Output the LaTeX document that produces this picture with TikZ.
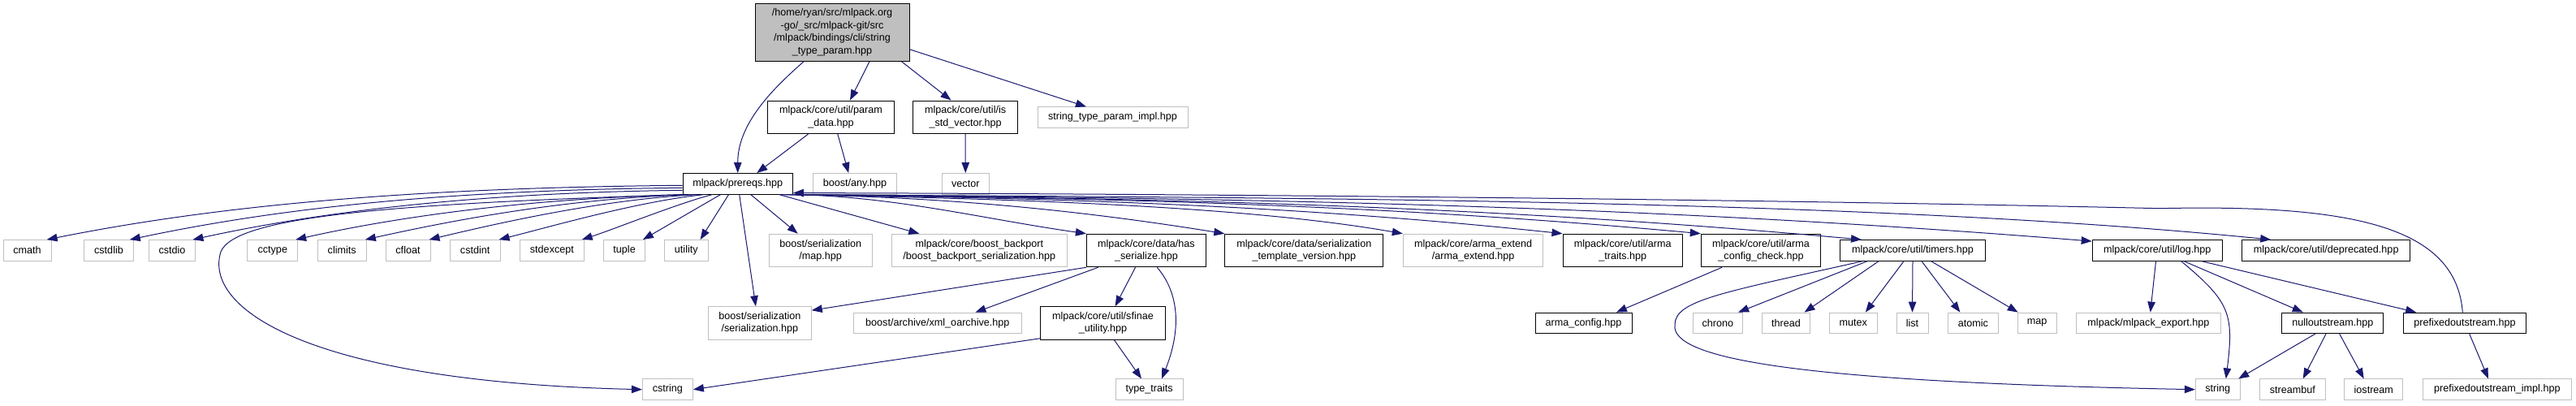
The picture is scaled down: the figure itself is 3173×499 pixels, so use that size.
\documentclass[tikz,border=0pt]{standalone}
\usepackage{fontspec}
\setmainfont{Liberation Sans}
\usetikzlibrary{arrows.meta}
\definecolor{edgeblue}{RGB}{25,25,112}
\definecolor{grayb}{RGB}{191,191,191}
\begin{document}
\begin{tikzpicture}[x=1pt,y=1pt,
  box/.style={rectangle, inner sep=0pt, align=center, font=\fontsize{12.6}{15.4}\selectfont, line width=1pt},
  doc/.style={box, draw=black},
  ext/.style={box, draw=grayb},
  one/.style={minimum height=25.6pt},
  two/.style={minimum height=40.6pt},
  dep/.style={draw=edgeblue, line width=1pt, -{Triangle[length=13pt,width=9.5pt]}}
]
\useasboundingbox (0,0) rectangle (3173,-499);
% row 0
\node[doc, fill=grayb, minimum width=190pt, minimum height=71pt] (root) at (1025,-39.8) {/home/ryan/src/mlpack.org\\-go/\_src/mlpack-git/src\\/mlpack/bindings/cli/string\\\_type\_param.hpp};
% row 1
\node[doc, two, minimum width=155.7pt] (pdata) at (1023.5,-144.3) {mlpack/core/util/param\\\_data.hpp};
\node[doc, two, minimum width=128.6pt] (isvec) at (1189.1,-144.3) {mlpack/core/util/is\\\_std\_vector.hpp};
\node[ext, one, minimum width=185pt] (stpi) at (1370.5,-144.7) {string\_type\_param\_impl.hpp};
% row 2
\node[doc, one, minimum width=135.3pt] (prereqs) at (908.7,-226.3) {mlpack/prereqs.hpp};
\node[ext, one, minimum width=103pt] (anyhpp) at (1053,-226.3) {boost/any.hpp};
\node[ext, one, minimum width=58.5pt] (vector) at (1189.3,-226.3) {vector};
% row 3
\node[ext, one, minimum width=59pt] (cmath) at (33.6,-308.4) {cmath};
\node[ext, one, minimum width=60.6pt] (cstdlib) at (134,-308.4) {cstdlib};
\node[ext, one, minimum width=57.8pt] (cstdio) at (212,-308.4) {cstdio};
\node[ext, one, minimum width=61.7pt] (cctype) at (335.8,-308.4) {cctype};
\node[ext, one, minimum width=60.3pt] (climits) at (421.2,-308.4) {climits};
\node[ext, one, minimum width=55pt] (cfloat) at (502.5,-308.4) {cfloat};
\node[ext, one, minimum width=61.7pt] (cstdint) at (585.2,-308.4) {cstdint};
\node[ext, one, minimum width=78.7pt] (stdexcept) at (679.9,-308.4) {stdexcept};
\node[ext, one, minimum width=50.6pt] (tuple) at (769.1,-308.4) {tuple};
\node[ext, one, minimum width=53.6pt] (utility) at (845.3,-308.4) {utility};
\node[ext, two, minimum width=127.1pt] (smap) at (1010.7,-308.5) {boost/serialization\\/map.hpp};
\node[ext, two, minimum width=216pt] (backport) at (1206.3,-308.5) {mlpack/core/boost\_backport\\/boost\_backport\_serialization.hpp};
\node[doc, two, minimum width=147pt] (hasser) at (1411.9,-308.5) {mlpack/core/data/has\\\_serialize.hpp};
\node[doc, two, minimum width=195pt] (stv) at (1606.3,-308.5) {mlpack/core/data/serialization\\\_template\_version.hpp};
\node[ext, two, minimum width=172.6pt] (armaext) at (1814.6,-308.5) {mlpack/core/arma\_extend\\/arma\_extend.hpp};
\node[doc, two, minimum width=147.4pt] (armatr) at (1998.7,-308.5) {mlpack/core/util/arma\\\_traits.hpp};
\node[doc, two, minimum width=147.4pt] (armacc) at (2169,-308.5) {mlpack/core/util/arma\\\_config\_check.hpp};
\node[doc, one, minimum width=179pt] (timers) at (2356,-308.4) {mlpack/core/util/timers.hpp};
\node[doc, one, minimum width=160pt] (logh) at (2657.2,-308.4) {mlpack/core/util/log.hpp};
\node[doc, one, minimum width=207pt] (depr) at (2865.2,-308.4) {mlpack/core/util/deprecated.hpp};
% row 4
\node[ext, two, minimum width=126.7pt] (ser) at (935.9,-398) {boost/serialization\\/serialization.hpp};
\node[ext, one, minimum width=206.4pt] (xmlo) at (1154.8,-397.9) {boost/archive/xml\_oarchive.hpp};
\node[doc, two, minimum width=154.2pt] (sfinae) at (1358.5,-398) {mlpack/core/util/sfinae\\\_utility.hpp};
\node[doc, one, minimum width=119pt] (armacfg) at (1950.5,-397.9) {arma\_config.hpp};
\node[ext, one, minimum width=61.6pt] (chrono) at (2115.8,-397.9) {chrono};
\node[ext, one, minimum width=59.3pt] (thread) at (2200,-397.9) {thread};
\node[ext, one, minimum width=59.5pt] (mutex) at (2282.8,-397.9) {mutex};
\node[ext, one, minimum width=39pt] (list) at (2355.5,-397.9) {list};
\node[ext, one, minimum width=61.6pt] (atomic) at (2430.4,-397.9) {atomic};
\node[ext, one, minimum width=47.7pt] (mapn) at (2509.2,-397.9) {map};
\node[ext, one, minimum width=178.7pt] (mlexp) at (2646.4,-397.9) {mlpack/mlpack\_export.hpp};
\node[doc, one, minimum width=125.3pt] (nullos) at (2873.3,-397.9) {nulloutstream.hpp};
\node[doc, one, minimum width=150.6pt] (prefos) at (3036,-397.9) {prefixedoutstream.hpp};
% row 5
\node[ext, one, minimum width=62pt] (cstring) at (822.4,-479.7) {cstring};
\node[ext, one, minimum width=83.4pt] (typetr) at (1415.7,-479.7) {type\_traits};
\node[ext, one, minimum width=55pt] (string) at (2731.8,-479.7) {string};
\node[ext, one, minimum width=80.3pt] (streambuf) at (2823.9,-479.7) {streambuf};
\node[ext, one, minimum width=72.3pt] (iostream) at (2923.8,-479.7) {iostream};
\node[ext, one, minimum width=183pt] (prefimpl) at (3075.8,-479.7) {prefixedoutstream\_impl.hpp};

% root edges
\draw[dep] ([xshift=-35pt]root.south) .. controls +(-40,-35) and +(0,60) .. (prereqs.north);
\draw[dep] ([xshift=46pt]root.south) -- ([xshift=23.5pt]pdata.north);
\draw[dep] ([xshift=-10pt]root.south east) -- ([xshift=-17.6pt]isvec.north);
\draw[dep] ([yshift=15pt]root.south east) -- ([xshift=-32.5pt]stpi.north);
\draw[dep] ([xshift=-28pt]pdata.south) -- ([xshift=23.6pt]prereqs.north);
\draw[dep] ([xshift=8.3pt]pdata.south) -- ([xshift=-7.8pt]anyhpp.north);
\draw[dep] (isvec) -- (vector);
% prereqs left fan
\draw[dep] ([yshift=-2pt]prereqs.west) .. controls +(-350,-3) and +(200,40) .. ([xshift=-6pt]cmath.north east);
\draw[dep] ([yshift=-5pt]prereqs.west) .. controls +(-300,-3) and +(180,38) .. ([xshift=-5pt]cstdlib.north east);
\draw[dep] ([yshift=-8pt]prereqs.west) .. controls +(-250,-3) and +(160,35) .. ([xshift=-4pt]cstdio.north east);
\draw[dep] ([xshift=4pt]prereqs.south west) .. controls +(-200,-5) and +(120,27) .. ([xshift=-3pt]cctype.north east);
\draw[dep] ([xshift=11pt]prereqs.south west) .. controls +(-160,-5) and +(100,22) .. ([xshift=-2pt]climits.north east);
\draw[dep] ([xshift=19pt]prereqs.south west) .. controls +(-120,-6) and +(80,19) .. ([xshift=-2pt]cfloat.north east);
\draw[dep] ([xshift=27pt]prereqs.south west) .. controls +(-80,-8) and +(60,15) .. ([xshift=-2pt]cstdint.north east);
\draw[dep] ([xshift=37pt]prereqs.south west) .. controls +(-40,-10) and +(40,13) .. ([xshift=-3pt]stdexcept.north east);
\draw[dep] ([xshift=47pt]prereqs.south west) -- ([xshift=-3pt]tuple.north east);
\draw[dep] ([xshift=57pt]prereqs.south west) -- ([xshift=-10pt]utility.north east);
\draw[dep] ([xshift=2pt]prereqs.south) -- ([xshift=-5pt]ser.north);
\draw[dep] ([xshift=16pt]prereqs.south) -- ([xshift=-28pt]smap.north);
\draw[dep] ([xshift=51pt]prereqs.south) -- ([xshift=-74pt]backport.north);
\draw[dep] ([xshift=1pt]prereqs.south west) .. controls +(-344,-11) and +(18,45) .. (272,-310) .. controls +(-22,-70) and +(-411,9.7) .. (cstring.west);
% prereqs right fan
\draw[dep] ([xshift=-2pt]prereqs.south east) .. controls +(127,-2) and +(-127,18) .. (hasser.north west);
\draw[dep] ([xshift=-4pt]prereqs.south east) .. controls +(186,-3) and +(-186,30) .. (stv.north west);
\draw[dep] ([xshift=-6pt]prereqs.south east) .. controls +(263,-5) and +(-200,35) .. (armaext.north west);
\draw[dep] ([xshift=-8pt]prereqs.south east) .. controls +(330,-4) and +(-330,35) .. (armatr.north west);
\draw[dep] ([xshift=-10pt]prereqs.south east) .. controls +(390,-4) and +(-390,36) .. (armacc.north west);
\draw[dep] ([xshift=-12pt]prereqs.south east) .. controls +(460,-4) and +(-460,42) .. ([xshift=27pt]timers.north west);
\draw[dep] ([xshift=-14pt]prereqs.south east) .. controls +(560,-4) and +(-560,45) .. ([yshift=-2pt]logh.north west);
\draw[dep] ([xshift=-16pt]prereqs.south east) .. controls +(640,-4) and +(-500,50) .. ([xshift=36pt]depr.north west);
\draw[dep] ([xshift=-2.7pt]prefos.north) .. controls +(-8,105) and +(240,5.3) .. (2660,-256.7) .. controls +(-460,10.7) and +(524,-1) .. ([yshift=2pt]prereqs.south east);
% has_serialize
\draw[dep] (hasser.south west) -- ([yshift=-5pt]ser.north east);
\draw[dep] ([xshift=-59.3pt]hasser.south) -- ([xshift=46.6pt]xmlo.north);
\draw[dep] ([xshift=-13.4pt]hasser.south) -- ([xshift=15.1pt]sfinae.north);
\draw[dep] ([xshift=13.4pt]hasser.south) .. controls +(30,-35) and +(22,55) .. ([xshift=15.3pt]typetr.north);
\draw[dep] ([xshift=14pt]sfinae.south) -- ([xshift=-9.7pt]typetr.north);
\draw[dep] ([yshift=2pt]sfinae.south west) -- (cstring.east);
\draw[dep] ([xshift=-48pt]armacc.south) -- ([xshift=40.4pt]armacfg.north);
% timers
\draw[dep] ([xshift=-62pt]timers.south) .. controls +(-174,-39) and +(0,30) .. (2063,-400) .. controls +(-5,-40) and +(-504,9.7) .. (string.west);
\draw[dep] ([xshift=-56pt]timers.south) -- ([xshift=-6pt]chrono.north east);
\draw[dep] ([xshift=-42pt]timers.south) -- ([xshift=-7.6pt]thread.north east);
\draw[dep] ([xshift=-11pt]timers.south) -- ([xshift=15pt]mutex.north);
\draw[dep] (timers.south) -- (list.north);
\draw[dep] ([xshift=11pt]timers.south) -- ([xshift=-16pt]atomic.north);
\draw[dep] ([xshift=22.6pt]timers.south) -- ([xshift=-23.5pt]mapn.north);
% log
\draw[dep] ([xshift=-1.7pt]logh.south) -- ([xshift=2.3pt]mlexp.north);
\draw[dep] ([xshift=29.5pt]logh.south) .. controls +(60,-50) and +(10,80) .. ([xshift=10pt]string.north);
\draw[dep] ([xshift=32.9pt]logh.south) -- ([xshift=-36.6pt]nullos.north);
\draw[dep] ([xshift=54.6pt]logh.south) -- ([xshift=16pt]prefos.north west);
% nulloutstream
\draw[dep] ([xshift=-21.6pt]nullos.south) -- ([xshift=-2.6pt]string.north east);
\draw[dep] ([xshift=-8.3pt]nullos.south) -- ([xshift=12.8pt]streambuf.north);
\draw[dep] ([xshift=8.4pt]nullos.south) -- ([xshift=-12.1pt]iostream.north);
\draw[dep] ([xshift=5.7pt]prefos.south) -- ([xshift=-10.8pt]prefimpl.north);
\end{tikzpicture}
\end{document}
